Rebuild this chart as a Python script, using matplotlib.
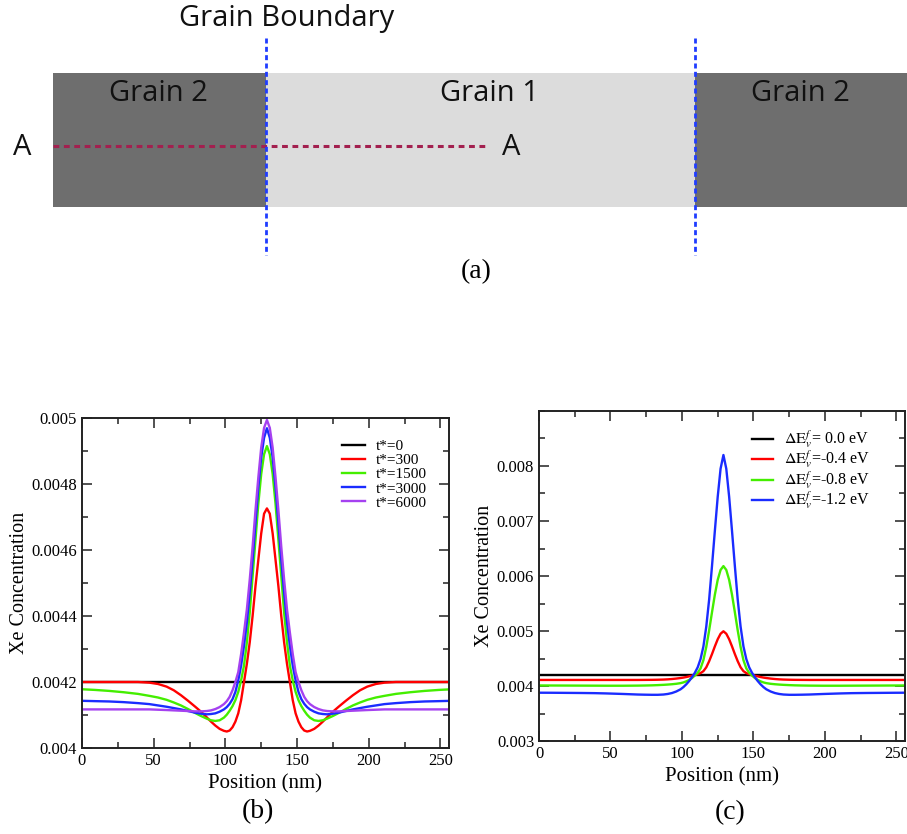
import numpy as np
import matplotlib
matplotlib.use("Agg")
import matplotlib.pyplot as plt
from matplotlib.patches import Rectangle
from matplotlib.ticker import MultipleLocator, FuncFormatter

plt.rcParams['font.family'] = ['Liberation Serif', 'DejaVu Serif']
plt.rcParams['mathtext.fontset'] = 'stix'

# ---- schematic (a): grain layout along the line A-A ----
bar_left, bar_right = 53, 907
bar_top, bar_bottom = 73, 207
grain_edges = [266, 695]          # grain boundaries
gb_line_top, gb_line_bottom = 38, 255
section_y, section_end = 146, 485  # A-A line

# ---- data: profiles are symmetric about the grain boundary ----
boundary = 129  # nm
dist = [0, 2, 4, 6, 8, 10, 12, 14, 16, 18, 20, 22, 24, 26, 28, 30, 33, 36, 39,
        42, 46, 50, 55, 60, 65, 70, 76, 82, 90, 100, 110, 120, 129]

# (b) time evolution
time_labels = ['t*=0', 't*=300', 't*=1500', 't*=3000', 't*=6000']
flat_pos = [0, 256]
conc_t0 = [0.0042, 0.0042]
conc_t300 = [0.004726, 0.00471, 0.00465, 0.00457, 0.00449, 0.0044, 0.00432, 0.004255,
             0.0042, 0.004145, 0.004105, 0.00408, 0.004063, 0.004053, 0.00405, 0.004052,
             0.004058, 0.004068, 0.00408, 0.004093, 0.00411, 0.004125, 0.004143, 0.00416,
             0.004175, 0.004186, 0.004194, 0.004198, 0.0042, 0.0042, 0.0042, 0.0042, 0.0042]
conc_t1500 = [0.004915, 0.00489, 0.00483, 0.00474, 0.00463, 0.00452, 0.00441, 0.00432,
              0.00425, 0.004205, 0.00417, 0.004145, 0.004127, 0.004113, 0.004101, 0.004092,
              0.004084, 0.004082, 0.004084, 0.004089, 0.004097, 0.004106, 0.004118, 0.004129,
              0.004138, 0.004146, 0.004153, 0.004158, 0.004164, 0.004169, 0.004173, 0.004176,
              0.004178]
conc_t3000 = [0.004969, 0.00494, 0.00488, 0.00479, 0.00468, 0.00457, 0.00447, 0.00438,
              0.00431, 0.00425, 0.004205, 0.00417, 0.004148, 0.004134, 0.004124, 0.004117,
              0.00411, 0.004105, 0.004103, 0.004102, 0.004104, 0.004107, 0.004112, 0.004117,
              0.004121, 0.004125, 0.004129, 0.004133, 0.004136, 0.004139, 0.004141, 0.004142,
              0.004143]
conc_t6000 = [0.004994, 0.00497, 0.00491, 0.00482, 0.00472, 0.00461, 0.00451, 0.00442,
              0.00435, 0.004285, 0.00423, 0.0042, 0.004175, 0.004155, 0.004142, 0.004133,
              0.004124, 0.004118, 0.004114, 0.004112, 0.004111, 0.004111, 0.004112, 0.004113,
              0.004114, 0.004115, 0.004116, 0.004117, 0.004117, 0.004117, 0.004117, 0.004117,
              0.004117]

# (c) vacancy formation energy change
energy_labels = [r'$\Delta \mathrm{E}_v^f$= 0.0 eV', r'$\Delta \mathrm{E}_v^f$=-0.4 eV',
                 r'$\Delta \mathrm{E}_v^f$=-0.8 eV', r'$\Delta \mathrm{E}_v^f$=-1.2 eV']
conc_e00 = [0.0042, 0.0042]
conc_e04 = [0.004995, 0.00495, 0.00485, 0.00472, 0.00458, 0.00445, 0.00434, 0.00427,
            0.004235, 0.004215, 0.0042, 0.004187, 0.004175, 0.004163, 0.004153, 0.004145,
            0.004135, 0.004127, 0.004121, 0.004117, 0.004114, 0.004112, 0.004111, 0.00411,
            0.00411, 0.00411, 0.00411, 0.00411, 0.00411, 0.00411, 0.00411, 0.00411, 0.00411]
conc_e08 = [0.00618, 0.00611, 0.00593, 0.00566, 0.00534, 0.00501, 0.00471, 0.00447,
            0.00432, 0.00424, 0.00419, 0.004145, 0.00411, 0.004085, 0.004065, 0.004052,
            0.00404, 0.004032, 0.004026, 0.004021, 0.004016, 0.004012, 0.004009, 0.004007,
            0.004006, 0.004005, 0.004005, 0.004005, 0.004006, 0.004007, 0.004008, 0.004009,
            0.00401]
conc_e12 = [0.0082, 0.00795, 0.00744, 0.00682, 0.00618, 0.00557, 0.00508, 0.00472,
            0.00449, 0.00434, 0.00424, 0.00416, 0.00409, 0.00403, 0.00398, 0.00394,
            0.0039, 0.003872, 0.003855, 0.003845, 0.00384, 0.00384, 0.003842, 0.003845,
            0.00385, 0.003855, 0.00386, 0.003865, 0.00387, 0.003873, 0.003875, 0.003877,
            0.003878]

colors_b = ['black', '#ff0000', '#44ee00', '#1a2cff', '#a541f0']
colors_c = ['black', '#ff0000', '#44ee00', '#1a2cff']


def mirror(vals):
    d = np.array(dist, dtype=float)
    v = np.array(vals)
    x = np.concatenate([boundary - d[::-1], boundary + d[1:]])
    y = np.concatenate([v[::-1], v[1:]])
    return x, y


fig = plt.figure(figsize=(9.07, 8.34), dpi=100)
W, H = 907, 834

# ---------- (a) ----------
ax_a = fig.add_axes([0, 0, 1, 1])
ax_a.set_xlim(0, W)
ax_a.set_ylim(H, 0)
ax_a.axis('off')
edges = [bar_left] + grain_edges + [bar_right]
fills = ['#6e6e6e', '#dcdcdc', '#6e6e6e']
for (x0, x1), fc in zip(zip(edges[:-1], edges[1:]), fills):
    ax_a.add_patch(Rectangle((x0, bar_top), x1 - x0, bar_bottom - bar_top,
                             facecolor=fc, edgecolor='none'))
ax_a.plot([bar_left, section_end], [section_y, section_y], color='#a3204f',
          lw=2.2, dashes=(1.9, 1.5), solid_capstyle='butt', dash_capstyle='butt')
for gx in grain_edges:
    ax_a.plot([gx, gx], [gb_line_top, gb_line_bottom], color='#1f3cff',
              lw=2.0, dashes=(1.8, 1.2), dash_capstyle='butt')
sans = ['Open Sans', 'DejaVu Sans']
txt = dict(family=sans, fontsize=21, ha='center', va='center', color='#111111')
ax_a.text(287, 18, 'Grain Boundary', **txt)
ax_a.text(158, 93, 'Grain 2', **txt)
ax_a.text(489, 93, 'Grain 1', **txt)
ax_a.text(800, 93, 'Grain 2', **txt)
ax_a.text(22, 147, 'A', **txt)
ax_a.text(511, 147, 'A', **txt)
ax_a.text(476, 272, '(a)', fontsize=20, ha='center', va='center')
ax_a.text(258, 812, '(b)', fontsize=20, ha='center', va='center')
ax_a.text(730, 813, '(c)', fontsize=20, ha='center', va='center')


def style(ax):
    for s in ax.spines.values():
        s.set_linewidth(1.4)
        s.set_color('#222222')
    ax.tick_params(which='both', direction='in', top=True, right=True,
                   labelsize=12, width=1.2, color='#333333')
    ax.tick_params(which='major', length=7)
    ax.tick_params(which='minor', length=4)
    ax.xaxis.set_major_locator(MultipleLocator(50))
    ax.xaxis.set_minor_locator(MultipleLocator(25))
    ax.yaxis.set_major_formatter(FuncFormatter(lambda v, p: '%g' % round(v, 6)))
    ax.set_xlim(0, 256)
    ax.set_xlabel('Position (nm)', fontsize=15, labelpad=4)
    ax.set_ylabel('Xe Concentration', fontsize=14.5, labelpad=2)


# ---------- (b) ----------
ax_b = fig.add_axes([82 / W, 1 - 748 / H, 367 / W, 330 / H])
ax_b.plot(flat_pos, conc_t0, color=colors_b[0], lw=1.7, label=time_labels[0])
for vals, c, lab in zip([conc_t300, conc_t1500, conc_t3000, conc_t6000],
                        colors_b[1:], time_labels[1:]):
    x, y = mirror(vals)
    ax_b.plot(x, y, color=c, lw=1.7, label=lab)
ax_b.set_ylim(0.004, 0.005)
ax_b.yaxis.set_major_locator(MultipleLocator(0.0002))
ax_b.yaxis.set_minor_locator(MultipleLocator(0.0001))
style(ax_b)
ax_b.legend(loc='upper left', bbox_to_anchor=(0.708, 0.935), frameon=False,
            fontsize=11, handlelength=1.5, handletextpad=0.75, labelspacing=0.03,
            borderpad=0, borderaxespad=0)

# ---------- (c) ----------
ax_c = fig.add_axes([539 / W, 1 - 741 / H, 366 / W, 330 / H])
ax_c.plot(flat_pos, conc_e00, color=colors_c[0], lw=1.7, label=energy_labels[0])
for vals, c, lab in zip([conc_e04, conc_e08, conc_e12], colors_c[1:], energy_labels[1:]):
    x, y = mirror(vals)
    ax_c.plot(x, y, color=c, lw=1.7, label=lab)
ax_c.set_ylim(0.003, 0.009)
ax_c.set_yticks([0.003, 0.004, 0.005, 0.006, 0.007, 0.008])
ax_c.yaxis.set_minor_locator(MultipleLocator(0.0005))
style(ax_c)
ax_c.legend(loc='upper left', bbox_to_anchor=(0.581, 0.945), frameon=False,
            fontsize=11.5, handlelength=1.35, handletextpad=0.7, labelspacing=-0.12,
            borderpad=0, borderaxespad=0)

fig.savefig('out.png', dpi=100)
